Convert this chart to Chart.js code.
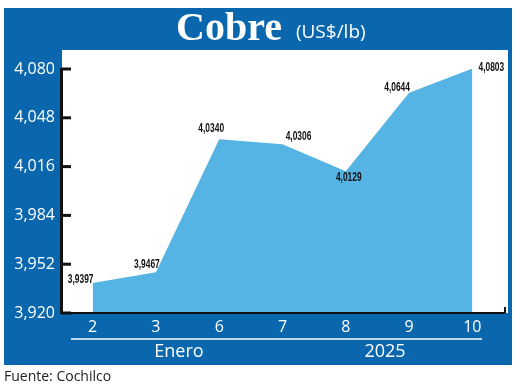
<!DOCTYPE html>
<html>
<head>
<meta charset="utf-8">
<script src="https://cdn.jsdelivr.net/npm/chart.js@4.4.1/dist/chart.umd.min.js"></script>
<style>
  body { margin: 0; background: #fff; }
  canvas { display: block; }
</style>
</head>
<body>
<canvas id="myChart" width="520" height="387"></canvas>
<script>
// data
var days = ['2', '3', '6', '7', '8', '9', '10'];
var prices = [3.9397, 3.9467, 4.0340, 4.0306, 4.0129, 4.0644, 4.0803];
var yTicks = [3.920, 3.952, 3.984, 4.016, 4.048, 4.080];
var groupLabels = ['Enero', '2025'];
var titleText = 'Cobre';
var unitText = '(US$/lb)';
var sourceText = 'Fuente: Cochilco';

// label offsets from each point (dx, dy)
var lblOffsets = [[-12, -3], [-9, -8], [-8, -10], [16, -8], [3, 6], [-12, -5], [19, -1]];

var darkBlue = '#0a67ae';
var lightBlue = '#55b4e4';

function fmt(v, d) {
  return v.toFixed(d).replace('.', ',');
}

var decor = {
  id: 'decor',
  beforeDraw: function (chart) {
    var ctx = chart.ctx;
    ctx.save();
    ctx.fillStyle = darkBlue;
    ctx.fillRect(4, 8, 508, 357);
    ctx.fillStyle = '#fff';
    ctx.fillRect(62, 50, 446, 263);

    // title
    ctx.textBaseline = 'alphabetic';
    ctx.font = 'bold 40px "Liberation Serif", serif';
    var w1 = ctx.measureText(titleText).width;
    var x0 = 176;
    ctx.fillStyle = '#fff';
    ctx.fillText(titleText, x0, 40);
    ctx.font = '19px "Open Sans", sans-serif';
    ctx.fillText(unitText, x0 + w1 + 14, 38);

    // source
    ctx.fillStyle = '#222';
    ctx.font = '14px "Open Sans", sans-serif';
    ctx.textBaseline = 'middle';
    ctx.fillText(sourceText, 4, 377);
    ctx.restore();
  },
  afterDatasetsDraw: function (chart) {
    var ctx = chart.ctx;
    var area = chart.chartArea;
    var y = chart.scales.y;
    ctx.save();

    // bottom band
    ctx.fillStyle = darkBlue;
    ctx.fillRect(4, area.bottom, 508, 365 - area.bottom);
    ctx.strokeStyle = '#fff';
    ctx.lineWidth = 1.5;
    ctx.beginPath();
    ctx.moveTo(71, 339);
    ctx.lineTo(482, 339);
    ctx.stroke();
    ctx.fillStyle = '#fff';
    ctx.font = '18px "Open Sans", sans-serif';
    ctx.textAlign = 'center';
    ctx.textBaseline = 'middle';
    ctx.fillText(groupLabels[0], 179, 352);
    ctx.fillText(groupLabels[1], 385, 352);

    // inward ticks on the y axis
    ctx.strokeStyle = '#111';
    ctx.lineWidth = 3;
    y.ticks.forEach(function (t) {
      var py = y.getPixelForValue(t.value);
      ctx.beginPath();
      ctx.moveTo(area.left, py);
      ctx.lineTo(area.left + 10, py);
      ctx.stroke();
    });
    ctx.lineWidth = 2;
    ctx.beginPath();
    ctx.moveTo(area.right + 1, area.bottom);
    ctx.lineTo(area.right + 1, area.bottom - 6);
    ctx.stroke();

    // value labels, condensed
    var meta = chart.getDatasetMeta(0);
    ctx.fillStyle = '#111';
    ctx.font = 'bold 12px "Liberation Sans", sans-serif';
    meta.data.forEach(function (pt, i) {
      ctx.save();
      ctx.translate(pt.x + lblOffsets[i][0], pt.y + lblOffsets[i][1]);
      ctx.scale(0.7, 1);
      ctx.fillText(fmt(prices[i], 4), 0, 0);
      ctx.restore();
    });
    ctx.restore();
  }
};

var config = {
  type: 'line',
  data: {
    labels: days,
    datasets: [{
      data: prices,
      fill: 'start',
      backgroundColor: lightBlue,
      borderWidth: 0,
      pointRadius: 0,
      tension: 0
    }]
  },
  options: {
    responsive: false,
    animation: false,
    events: [],
    layout: { padding: { left: 0, top: 69, right: 16, bottom: 0 } },
    plugins: { legend: { display: false }, tooltip: { enabled: false } },
    scales: {
      x: {
        offset: true,
        grid: { display: false, drawTicks: false },
        border: { display: true, color: '#111', width: 2, z: 1 },
        ticks: {
          z: 1,
          color: '#fff',
          padding: 5,
          font: { family: '"Open Sans", sans-serif', size: 16 }
        },
        afterFit: function (scale) { scale.height = 74; }
      },
      y: {
        min: 3.92,
        max: 4.08,
        grid: { display: false, drawTicks: false },
        border: { display: true, color: '#111', width: 3, z: 1 },
        afterBuildTicks: function (scale) {
          scale.ticks = yTicks.map(function (v) { return { value: v }; });
        },
        ticks: {
          z: 1,
          color: '#fff',
          padding: 6,
          font: { family: '"Open Sans", sans-serif', size: 16 },
          callback: function (v) { return fmt(v, 3); }
        },
        afterFit: function (scale) { scale.width = 61; }
      }
    }
  },
  plugins: [decor]
};

var myChart = new Chart(document.getElementById('myChart').getContext('2d'), config);
</script>
</body>
</html>
